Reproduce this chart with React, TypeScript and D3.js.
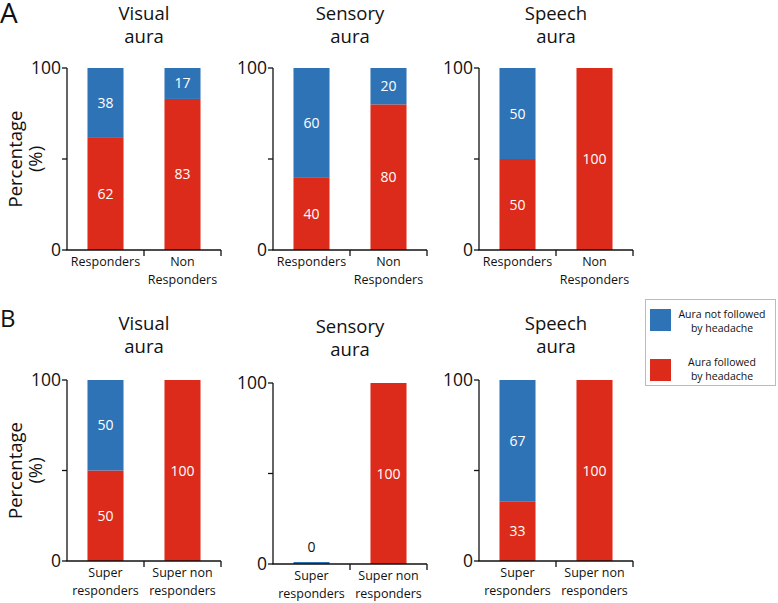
import React from "react";
import * as d3 from "d3";

const auraTypes = ["Visual", "Sensory", "Speech"];
const rowLetters = ["A", "B"];
const rowACategories = [["Responders"], ["Non", "Responders"]];
const rowBCategories = [["Super", "responders"], ["Super non", "responders"]];
// [panel][category]
const rowANotFollowed = [[38, 17], [60, 20], [50, 0]];
const rowAFollowed = [[62, 83], [40, 80], [50, 100]];
const rowBNotFollowed = [[50, 0], [0, 0], [67, 0]];
const rowBFollowed = [[50, 100], [0, 100], [33, 100]];
const yTicks = [0, 50, 100];
const yTickLabels = [0, 100];
const legendLabels = [["Aura not followed", "by headache"], ["Aura followed", "by headache"]];

const BLUE = "#2F73B7";
const RED = "#DC2B1A";
const FONT = "'Open Sans', 'Noto Sans', sans-serif";

const rows = [
  { letter: rowLetters[0], cats: rowACategories, blue: rowANotFollowed, red: rowAFollowed, top: 68, bottom: 250, titleY: 20, letterY: 23, letterSize: 28 },
  { letter: rowLetters[1], cats: rowBCategories, blue: rowBNotFollowed, red: rowBFollowed, top: 380, bottom: 561, titleY: 330, letterY: 327, letterSize: 24 },
];

function Panel({ x0, top, bottom, titleY, title, cats, blue, red }) {
  const width = 154;
  const y = d3.scaleLinear().domain([0, 100]).range([bottom, top]);
  const x = d3
    .scaleBand<number>()
    .domain(cats.map((_, i) => i))
    .range([x0, x0 + width])
    .paddingInner(0.532)
    .paddingOuter(0.266);
  const step = x.step();
  return (
    <g>
      <text x={x0 + width / 2} y={titleY} textAnchor="middle" fontSize={18.5} fontFamily={FONT} fill="#111">
        {title}
      </text>
      <text x={x0 + width / 2} y={titleY + 23} textAnchor="middle" fontSize={18.5} fontFamily={FONT} fill="#111">
        aura
      </text>
      {cats.map((c, i) => {
        const bx = x(i)!;
        const bw = x.bandwidth();
        const r = red[i];
        const b = blue[i];
        const total = r + b;
        const cx = bx + bw / 2;
        return (
          <g key={i}>
            {r > 0 && <rect x={bx} y={y(r)} width={bw} height={y(0) - y(r)} fill={RED} />}
            {b > 0 && <rect x={bx} y={y(r + b)} width={bw} height={y(r) - y(r + b)} fill={BLUE} />}
            {total === 0 && <rect x={bx} y={y(0) - 2} width={bw} height={2} fill={BLUE} />}
            {r > 0 && (
              <text x={cx} y={(y(0) + y(r)) / 2 + 5} textAnchor="middle" fontSize={14} fontFamily={FONT} fill="#fff">
                {r}
              </text>
            )}
            {b > 0 && (
              <text x={cx} y={(y(r) + y(r + b)) / 2 + 5} textAnchor="middle" fontSize={14} fontFamily={FONT} fill="#fff">
                {b}
              </text>
            )}
            {total === 0 && (
              <text x={cx} y={y(0) - 12} textAnchor="middle" fontSize={14} fontFamily={FONT} fill="#111">
                {0}
              </text>
            )}
            {c.map((line, li) => (
              <text key={li} x={cx} y={bottom + 16 + li * 18} textAnchor="middle" fontSize={12.5} fontFamily={FONT} fill="#111">
                {line}
              </text>
            ))}
          </g>
        );
      })}
      {/* y axis */}
      <line x1={x0} x2={x0} y1={y(0)} y2={y(100)} stroke="#111" strokeWidth={1.3} />
      {yTicks.map((t) => (
        <line key={t} x1={x0 - 5} x2={x0} y1={y(t)} y2={y(t)} stroke="#111" strokeWidth={1.3} />
      ))}
      {yTickLabels.map((t) => (
        <text key={t} x={x0 - 6} y={y(t) + 6} textAnchor="end" fontSize={17.5} fontFamily={FONT} fill="#111">
          {t}
        </text>
      ))}
      {/* x axis */}
      <line x1={x0 - 0.65} x2={x0 + width} y1={y(0)} y2={y(0)} stroke="#111" strokeWidth={1.3} />
      {cats.map((_, i) => (
        <line key={i} x1={x0 + step * (i + 1)} x2={x0 + step * (i + 1)} y1={y(0)} y2={y(0) + 6} stroke="#111" strokeWidth={1.3} />
      ))}
    </g>
  );
}

export default function App() {
  return (
    <svg width={778} height={603} style={{ position: "absolute", left: 0, top: 0, background: "#fff" }}>
      {rows.map((row, ri) => (
        <g key={ri}>
          <text x={0} y={row.letterY} fontSize={row.letterSize} fontFamily={FONT} fill="#111">
            {row.letter}
          </text>
          <g transform={`translate(22, ${(row.top + row.bottom) / 2}) rotate(-90)`}>
            <text textAnchor="middle" fontSize={18.5} fontFamily={FONT} fill="#111">Percentage</text>
          </g>
          <g transform={`translate(42, ${(row.top + row.bottom) / 2}) rotate(-90)`}>
            <text textAnchor="middle" fontSize={18.5} fontFamily={FONT} fill="#111">(%)</text>
          </g>
          {auraTypes.map((t, pi) => {
            const shift = ri === 1 && pi === 1 ? 3 : 0;
            return (
              <Panel
                key={pi}
                x0={67 + pi * 206}
                top={row.top + shift}
                bottom={row.bottom + shift}
                titleY={row.titleY + shift}
                title={t}
                cats={row.cats}
                blue={row.blue[pi]}
                red={row.red[pi]}
              />
            );
          })}
        </g>
      ))}
      {/* legend */}
      <g>
        <rect x={645.5} y={299.5} width={130} height={86} fill="#fff" stroke="#bbb" strokeWidth={1} />
        {[BLUE, RED].map((col, i) => (
          <g key={i}>
            <rect x={650} y={309 + i * 50} width={21} height={22} fill={col} />
            {legendLabels[i].map((line, li) => (
              <text key={li} x={722} y={318 + i * 48 + li * 13.5} textAnchor="middle" fontSize={10.5} fontFamily={FONT} fill="#111">
                {line}
              </text>
            ))}
          </g>
        ))}
      </g>
    </svg>
  );
}
